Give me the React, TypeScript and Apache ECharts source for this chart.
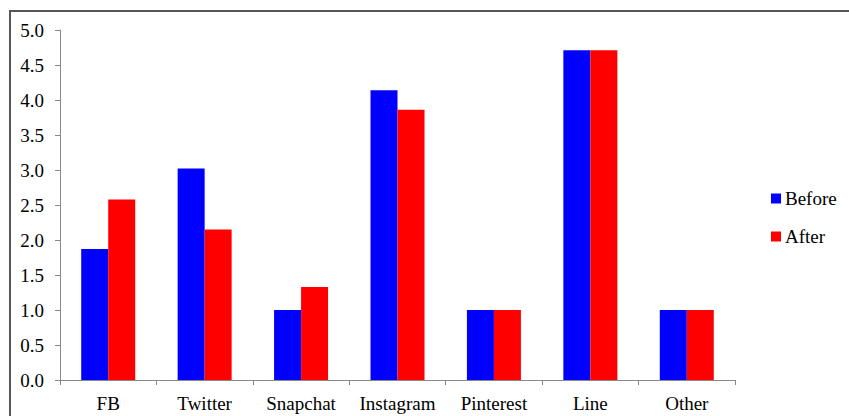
import React, { useEffect, useRef } from "react";
import * as echarts from "echarts";

const categories = ["FB", "Twitter", "Snapchat", "Instagram", "Pinterest", "Line", "Other"];
const before = [1.87, 3.02, 1.0, 4.14, 1.0, 4.71, 1.0];
const after = [2.58, 2.15, 1.33, 3.86, 1.0, 4.71, 1.0];

export default function App() {
  const ref = useRef<HTMLDivElement>(null);
  useEffect(() => {
    if (!ref.current) return;
    const chart = echarts.init(ref.current, null, { renderer: "svg" });
    const font = "'Liberation Serif', 'Times New Roman', serif";
    chart.setOption({
      animation: false,
      backgroundColor: "#fff",
      textStyle: { fontFamily: font },
      grid: { left: 60, right: 114, top: 30, bottom: 36 },
      legend: {
        orient: "vertical",
        left: 771,
        top: 188,
        padding: 0,
        itemWidth: 10,
        itemHeight: 10,
        itemGap: 17,
        icon: "rect",
        textStyle: { fontFamily: font, fontSize: 19, lineHeight: 19, color: "#000", padding: [2, 0, 0, -1] },
        data: ["Before", "After"],
      },
      graphic: [
        {
          type: "rect",
          shape: { x: 10, y: 11, width: 900, height: 500 },
          style: { fill: "none", stroke: "#555", lineWidth: 2 },
        },
      ],
      xAxis: {
        type: "category",
        data: categories,
        axisLine: { lineStyle: { color: "#888", width: 1 } },
        axisTick: { show: true, length: 5, lineStyle: { color: "#888" } },
        axisLabel: { color: "#000", fontFamily: font, fontSize: 19, margin: 14, interval: 0, hideOverlap: false },
      },
      yAxis: {
        type: "value",
        min: 0,
        max: 5,
        interval: 0.5,
        splitLine: { show: false },
        axisLine: { show: true, lineStyle: { color: "#888", width: 1 } },
        axisTick: { show: true, length: 5, lineStyle: { color: "#888" } },
        axisLabel: {
          color: "#000",
          fontFamily: font,
          fontSize: 19,
          margin: 16,
          formatter: (v: number) => v.toFixed(1),
        },
      },
      series: [
        {
          name: "Before",
          type: "bar",
          data: before,
          barWidth: 27,
          barGap: "0%",
          itemStyle: { color: "#0000ff" },
        },
        {
          name: "After",
          type: "bar",
          data: after,
          barWidth: 27,
          barGap: "0%",
          itemStyle: { color: "#ff0000" },
        },
      ],
    });
    return () => chart.dispose();
  }, []);
  return <div ref={ref} style={{ width: 849, height: 416, position: "fixed", left: 0, top: 0 }} />;
}
